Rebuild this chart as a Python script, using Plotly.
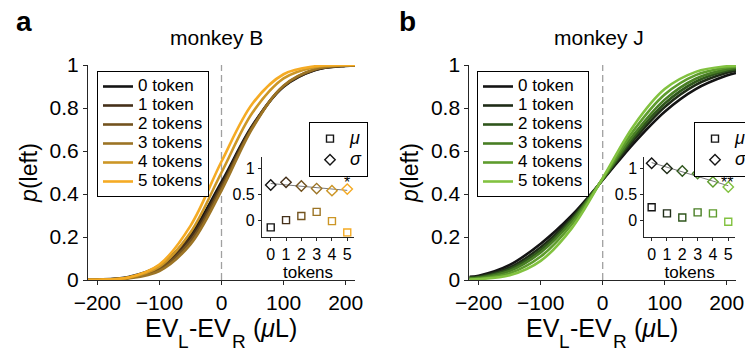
import plotly.graph_objects as go

# ---- data -------------------------------------------------------------
ev = [-215, -200, -150, -100, -50, 0, 50, 100, 150, 200, 215]   # EV_L - EV_R (uL)
token_labels = ["0 token", "1 token", "2 tokens", "3 tokens", "4 tokens", "5 tokens"]
tokens = [0, 1, 2, 3, 4, 5]

# p(left) for each token count, monkey B
p_left_B = [
    [0.001, 0.002, 0.014, 0.067, 0.210, 0.456, 0.720, 0.899, 0.976, 0.996, 0.998],
    [0.001, 0.001, 0.011, 0.058, 0.196, 0.443, 0.716, 0.901, 0.977, 0.997, 0.998],
    [0.000, 0.001, 0.009, 0.050, 0.181, 0.430, 0.712, 0.902, 0.979, 0.997, 0.999],
    [0.000, 0.001, 0.007, 0.042, 0.166, 0.416, 0.707, 0.904, 0.980, 0.998, 0.999],
    [0.001, 0.001, 0.011, 0.062, 0.221, 0.500, 0.779, 0.938, 0.990, 0.999, 1.000],
    [0.001, 0.001, 0.012, 0.072, 0.252, 0.551, 0.821, 0.957, 0.994, 1.000, 1.000],
]
# p(left) for each token count, monkey J
p_left_J = [
    [0.015, 0.020, 0.070, 0.169, 0.300, 0.465, 0.636, 0.783, 0.888, 0.951, 0.963],
    [0.012, 0.016, 0.058, 0.152, 0.289, 0.466, 0.651, 0.805, 0.908, 0.964, 0.974],
    [0.010, 0.013, 0.050, 0.140, 0.281, 0.468, 0.663, 0.821, 0.922, 0.973, 0.981],
    [0.007, 0.010, 0.042, 0.128, 0.272, 0.470, 0.676, 0.839, 0.936, 0.980, 0.987],
    [0.004, 0.006, 0.031, 0.109, 0.258, 0.472, 0.696, 0.863, 0.953, 0.988, 0.993],
    [0.002, 0.004, 0.022, 0.089, 0.240, 0.474, 0.718, 0.888, 0.968, 0.994, 0.996],
]

# fitted parameters per token count
mu_B = [-0.14, 0.00, 0.08, 0.16, -0.02, -0.24]
sigma_B = [0.68, 0.73, 0.66, 0.61, 0.57, 0.60]
mu_J = [0.25, 0.13, 0.05, 0.15, 0.13, -0.03]
sigma_J = [1.10, 1.00, 0.95, 0.90, 0.74, 0.64]

# linear trend of sigma across token counts (value at 0 and at 5 tokens)
fit_tokens = [0, 5]
sigma_fit_B = [0.708, 0.575]
sigma_fit_J = [1.112, 0.665]

colors_B = ["#141414", "#45301a", "#73531f", "#9c7425", "#cc9626", "#f5ab24"]
colors_J = ["#141414", "#1f2c17", "#2f561c", "#487e24", "#5e9c2d", "#82c240"]

FONT = "Liberation Sans, Arial, Helvetica, sans-serif"
W, H = 745, 352


def px_x(v):
    return v / W


def px_y(v):
    return 1 - v / H


def sized(text, size):
    return '<span style="font-size:%dpx">%s</span>' % (size, text)


fig = go.Figure()

# ---- main panels -------------------------------------------------------
for p_left, colors, xa, ya, leg in [
    (p_left_B, colors_B, "x", "y", "legend"),
    (p_left_J, colors_J, "x2", "y2", "legend2"),
]:
    # reference line at zero value difference
    fig.add_trace(go.Scatter(
        x=[0, 0], y=[0, 1], mode="lines", xaxis=xa, yaxis=ya,
        line=dict(color="#a0a0a0", width=1.3, dash="7px,4px"),
        showlegend=False, hoverinfo="skip"))
    for i, label in enumerate(token_labels):
        fig.add_trace(go.Scatter(
            x=ev, y=p_left[i], mode="lines", xaxis=xa, yaxis=ya,
            line=dict(color=colors[i], width=2.6, shape="spline", smoothing=1),
            name=sized(label, 17), legend=leg))

# ---- insets -------------------------------------------------------------
for mu, sigma, sfit, colors, xa, ya, leg in [
    (mu_B, sigma_B, sigma_fit_B, colors_B, "x3", "y3", "legend3"),
    (mu_J, sigma_J, sigma_fit_J, colors_J, "x4", "y4", "legend4"),
]:
    fig.add_trace(go.Scatter(
        x=fit_tokens, y=sfit, mode="lines", xaxis=xa, yaxis=ya,
        line=dict(color="#7a7a7a", width=1), showlegend=False, hoverinfo="skip"))
    fig.add_trace(go.Scatter(
        x=tokens, y=mu, mode="markers", xaxis=xa, yaxis=ya,
        marker=dict(symbol="square-open", size=7, color=colors, line=dict(width=1.4)),
        name="<i>%s</i>" % sized("μ", 18), legend=leg))
    fig.add_trace(go.Scatter(
        x=tokens, y=sigma, mode="markers", xaxis=xa, yaxis=ya,
        marker=dict(symbol="diamond-open", size=8, color=colors, line=dict(width=1.4)),
        name="<i>%s</i>" % sized("σ", 18), legend=leg))

# ---- axes ---------------------------------------------------------------
axis_common = dict(showline=True, linecolor="#262626", linewidth=1.1, ticks="outside",
                   ticklen=4, tickwidth=1.1, tickcolor="#262626", showgrid=False,
                   zeroline=False, mirror=False)
main_font = dict(family=FONT, size=21, color="black")
inset_font = dict(family=FONT, size=16, color="black")

main_y = [px_y(280), px_y(65)]
inset_y = [px_y(236.7), px_y(157)]
main_x = {"": (88, 355), "2": (469.4, 736)}

layout_axes = {}
for k, (x0, x1) in main_x.items():
    layout_axes["xaxis" + k] = dict(
        axis_common, domain=[px_x(x0), px_x(x1)], range=[-215, 215],
        tickvals=[-200, -100, 0, 100, 200], tickfont=main_font, anchor="y" + k)
    layout_axes["yaxis" + k] = dict(
        axis_common, domain=main_y, range=[0, 1],
        tickvals=[0, 0.2, 0.4, 0.6, 0.8, 1], ticktext=["0", "0.2", "0.4", "0.6", "0.8", "1"],
        tickfont=main_font, anchor="x" + k,
        title=dict(text="<i>p</i>(left)", font=dict(family=FONT, size=23, color="black"),
                   standoff=5))

for k, (x0, x1), xr in [("3", (262, 354), [-0.57, 5.44]), ("4", (644.3, 735), [-0.48, 5.44])]:
    layout_axes["xaxis" + k] = dict(
        axis_common, domain=[px_x(x0), px_x(x1)], range=xr,
        tickvals=tokens, tickfont=inset_font, anchor="y" + k, ticklen=3,
        title=dict(text="tokens", font=dict(family=FONT, size=17, color="black"), standoff=2))
    layout_axes["yaxis" + k] = dict(
        axis_common, domain=inset_y, range=[-0.32, 1.22], ticklen=3,
        tickvals=[0, 0.5, 1], ticktext=["0", "0.5", "1"], tickfont=inset_font,
        anchor="x" + k)

legend_common = dict(xanchor="left", yanchor="top", bordercolor="black", borderwidth=1,
                     bgcolor="white", tracegroupgap=0, itemclick=False)

fig.update_layout(
    width=W, height=H,
    margin=dict(l=0, r=0, t=0, b=0, autoexpand=False),
    paper_bgcolor="white", plot_bgcolor="rgba(0,0,0,0)",
    font=dict(family=FONT, color="black"),
    legend=dict(legend_common, x=px_x(97), y=px_y(71), font=dict(family=FONT, size=12)),
    legend2=dict(legend_common, x=px_x(477), y=px_y(71), font=dict(family=FONT, size=12)),
    legend3=dict(legend_common, x=px_x(309), y=px_y(122), font=dict(family=FONT, size=14)),
    legend4=dict(legend_common, x=px_x(694), y=px_y(122), font=dict(family=FONT, size=14)),
    **layout_axes,
)


# ---- text placed in page pixels ----------------------------------------
def paper_text(text, x, y, size, xanchor="center", yanchor="middle"):
    fig.add_annotation(text=text, x=px_x(x), y=px_y(y), xref="paper", yref="paper",
                       xanchor=xanchor, yanchor=yanchor, showarrow=False,
                       font=dict(family=FONT, size=size, color="black"))


paper_text("<b>a</b>", 24, 21, 28)
paper_text("<b>b</b>", 407, 21, 28)
paper_text("monkey B", 216, 38, 21)
paper_text("monkey J", 599, 38, 21)

# x-axis title "EV_L - EV_R (uL)", with the subscripts set lower and smaller
MAIN_SZ, SUB_SZ = 25, 19
MAIN_BASE, SUB_BASE = 336.7, 348.0
title_parts = [  # text, offset from the start of the title, subscript?
    ("EV", 0.0, False),
    ("L", 33.5, True),
    ("-EV", 44.5, False),
    ("R", 87.0, True),
    ("(<i>μ</i>L)", 108.0, False),
]
for k, (x0, x1) in main_x.items():
    start = (x0 + x1) / 2 - 79
    for text, dx, is_sub in title_parts:
        size = SUB_SZ if is_sub else MAIN_SZ
        base = SUB_BASE if is_sub else MAIN_BASE
        paper_text(text, start + dx, base + 0.212 * size + 2, size,
                   xanchor="left", yanchor="bottom")

fig.add_annotation(text="*", x=5, y=0.72, xref="x3", yref="y3", showarrow=False,
                   xanchor="center", font=dict(family=FONT, size=16, color="black"))
fig.add_annotation(text="**", x=4.9, y=0.72, xref="x4", yref="y4", showarrow=False,
                   xanchor="center", font=dict(family=FONT, size=16, color="black"))

fig.write_html("out.html")
